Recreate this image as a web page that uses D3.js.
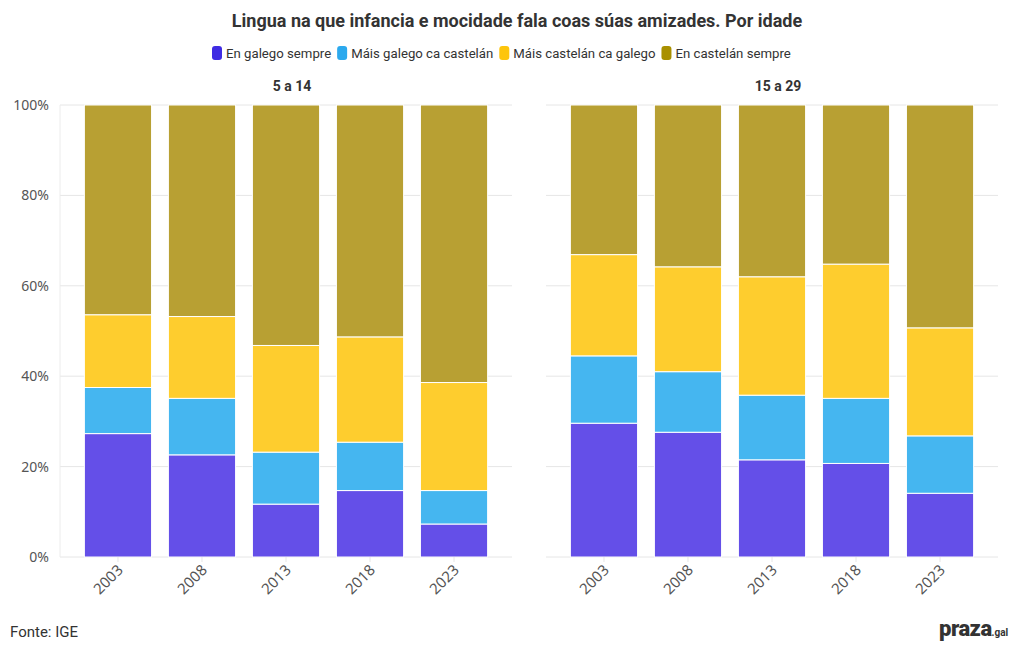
<!DOCTYPE html>
<html><head><meta charset="utf-8">
<script src="https://cdn.jsdelivr.net/npm/d3@7"></script>
<style>
body{margin:0;background:#fff;}
svg{font-family:"Roboto","Noto Sans",sans-serif;}
</style></head>
<body><svg id="c" width="1020" height="652"></svg>
<script>
const years = ["2003","2008","2013","2018","2023"];
const panels = ["5 a 14","15 a 29"];
const seriesNames = ["En galego sempre","Máis galego ca castelán","Máis castelán ca galego","En castelán sempre"];
const legendColors = ["#3f2be3","#2ba9ee","#fdc50c","#a99000"];
const barColors = ["#644fe8","#45b6f0","#fecd2e","#b8a033"];
// 5 a 14
const p1Galego = [27.3,22.6,11.7,14.7,7.3];
const p1MaisGalego = [10.2,12.5,11.5,10.7,7.4];
const p1MaisCastelan = [16.1,18.1,23.6,23.3,23.9];
const p1Castelan = [46.4,46.8,53.2,51.3,61.4];
// 15 a 29
const p2Galego = [29.6,27.6,21.5,20.7,14.1];
const p2MaisGalego = [14.9,13.4,14.3,14.4,12.7];
const p2MaisCastelan = [22.4,23.2,26.2,29.7,23.9];
const p2Castelan = [33.1,35.8,38.0,35.2,49.3];
const yTicks = [0,20,40,60,80,100];

const panelData = [
  [p1Galego,p1MaisGalego,p1MaisCastelan,p1Castelan],
  [p2Galego,p2MaisGalego,p2MaisCastelan,p2Castelan]
];

const svg = d3.select("#c");
const plotTop = 105, plotBottom = 557;
const panelX = [[60,512],[546,998]];
const y = d3.scaleLinear().domain([0,100]).range([plotBottom,plotTop]);

svg.append("text").attr("x",517).attr("y",27).attr("text-anchor","middle")
  .attr("font-size",18).attr("font-weight","bold").attr("fill","#333")
  .text("Lingua na que infancia e mocidade fala coas súas amizades. Por idade");

// legend
const legG = svg.append("g").attr("font-size",13.2).attr("fill","#333");
let lx = 212;
seriesNames.forEach((n,i)=>{
  const g = legG.append("g");
  g.append("rect").attr("x",lx).attr("y",46).attr("width",10).attr("height",14).attr("rx",3).attr("fill",legendColors[i]);
  const t = g.append("text").attr("x",lx+14).attr("y",58).attr("fill","#333").text(n);
  const w = t.node().getComputedTextLength();
  lx += 14 + w + 6;
});

panelData.forEach((series,pi)=>{
  const [x0,x1] = panelX[pi];
  const x = d3.scaleBand().domain(years).range([x0,x1]).paddingInner(0.2).paddingOuter(0.29);
  const g = svg.append("g");
  g.selectAll(".grid").data(yTicks).join("line")
    .attr("x1",x0).attr("x2",x1).attr("y1",d=>y(d)).attr("y2",d=>y(d))
    .attr("stroke","#e6e6e6").attr("stroke-width",1);
  if(pi===0){
    g.append("line").attr("x1",x0).attr("x2",x0).attr("y1",plotTop).attr("y2",plotBottom).attr("stroke","#ececec");
    g.selectAll(".yl").data(yTicks).join("text")
      .attr("x",49).attr("y",d=>y(d)+5).attr("text-anchor","end")
      .attr("font-size",14).attr("fill","#555").attr("font-family","'Noto Sans',sans-serif")
      .text(d=>d+"%");
  }
  const rows = years.map((yr,i)=>{const o={year:yr}; series.forEach((s,k)=>o[k]=s[i]); return o;});
  const stack = d3.stack().keys([0,1,2,3])(rows);
  stack.forEach((layer,k)=>{
    g.selectAll(".b"+k).data(layer).join("rect")
      .attr("x",d=>x(d.data.year)).attr("width",x.bandwidth())
      .attr("y",d=>y(d[1])).attr("height",d=>y(d[0])-y(d[1]))
      .attr("fill",barColors[k]).attr("stroke","#fff").attr("stroke-width",1);
  });
  const xa = g.append("g").attr("transform",`translate(0,${plotBottom})`);
  years.forEach(yr=>{
    const cx = x(yr)+x.bandwidth()/2;
    xa.append("line").attr("x1",cx).attr("x2",cx).attr("y1",0).attr("y2",5).attr("stroke","#e6e6e6");
    xa.append("text").attr("transform",`translate(${cx+6},${14}) rotate(-45)`)
      .attr("text-anchor","end").attr("font-size",15).attr("fill","#555")
      .attr("font-family","'Noto Sans',sans-serif").text(yr);
  });
  svg.append("text").attr("x",(x0+x1)/2+6).attr("y",91).attr("text-anchor","middle")
    .attr("font-size",14).attr("font-weight","bold").attr("fill","#333").text(panels[pi]);
});

svg.append("text").attr("x",10).attr("y",637).attr("font-size",15).attr("fill","#333").text("Fonte: IGE");
const logo = svg.append("text").attr("x",939).attr("y",636).attr("fill","#333");
logo.append("tspan").attr("font-size",22).attr("font-weight","900").attr("letter-spacing","-0.5").text("praza");
logo.append("tspan").attr("font-size",10).attr("font-weight","bold").text(".gal");
</script></body></html>
